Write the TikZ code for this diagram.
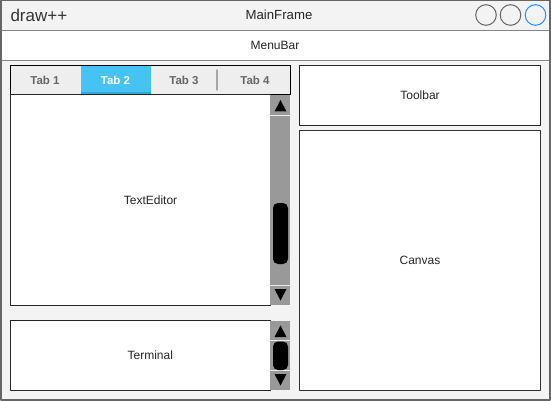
\documentclass[tikz,border=0pt]{standalone}
\usepackage{fontspec}
\setmainfont{Liberation Sans}
\definecolor{framegray}{HTML}{666666}
\definecolor{panelgray}{HTML}{F3F3F3}
\definecolor{tabgray}{HTML}{EEEEEE}
\definecolor{tabblue}{HTML}{45C3F3}
\definecolor{tabline}{HTML}{2EA9D8}
\definecolor{bargray}{HTML}{999999}
\definecolor{btnblue}{HTML}{1E90FF}
\tikzset{
  box/.style={draw=black!85,fill=white,line width=1pt},
  tab/.style={font=\bfseries\fontsize{11.5}{13}\selectfont,text=framegray},
  arrowup/.style={fill=black},
  thumb/.style={fill=black,rounded corners=5pt},
}
\begin{document}
\begin{tikzpicture}[x=1pt,y=-1pt, font=\fontsize{12}{14}\selectfont, line join=round, line cap=round]
\useasboundingbox (0,0) rectangle (551,401);
\def\sx{270} \def\sw{20} % scrollbars
\draw[framegray,fill=panelgray,line width=1.5pt] (0.75,0.75) rectangle (550,400);
\fill[white] (1.5,30) rectangle (549.25,60);
\draw[framegray!80] (1.5,30)--(549.25,30) (1.5,60)--(549.25,60);
\node[anchor=west,text=black!80,font=\fontsize{17}{20}\selectfont] (appname) at (7,15) {draw++};
\node[text=black!85,font=\fontsize{13.2}{15}\selectfont] (mainframe) at (279,15) {MainFrame};
\foreach \cx/\cc in {486/framegray,510.5/framegray,535.5/btnblue}
  \draw[\cc,line width=1pt] (\cx,15) circle (10.3);
\node[text=black!85] (menubar) at (275,45) {MenuBar};
% tabs
\draw[black,fill=tabgray,line width=1pt] (10.5,65.5) rectangle (290.5,95);
\fill[tabblue] (80.5,66) rectangle (150.5,95);
\fill[tabline] (80.5,92) rectangle (150.5,95);
\draw[black,line width=1pt] (10.5,65.5)--(290.5,65.5);
\draw[black!35,line width=1.5pt] (217,70)--(217,90);
\node[tab] (tabA) at (45,80) {Tab 1};
\node[tab,text=white] (tabB) at (115.5,80) {Tab 2};
\node[tab] (tabC) at (184,80) {Tab 3};
\node[tab] (tabD) at (255,80) {Tab 4};
% editor
\draw[box] (10.5,95) rectangle (\sx,305);
\node[text=black!85] (editor) at (150.5,200) {TextEditor};
\fill[bargray] (\sx,95.5) rectangle (\sx+\sw,305);
\draw[white!85!gray] (\sx,115)--(\sx+\sw,115) (\sx,285)--(\sx+\sw,285);
\fill[arrowup] (274.5,111.5)--(286.5,111.5)--(280.5,100)--cycle;
\fill[arrowup] (274.5,289)--(286.5,289)--(280.5,300.5)--cycle;
\fill[thumb] (273,203) rectangle (288,264);
% terminal
\draw[box] (10.5,320.5) rectangle (\sx,390);
\node[text=black!85] (terminal) at (150.3,355) {Terminal};
\fill[bargray] (\sx,320.5) rectangle (\sx+\sw,390);
\draw[white!85!gray] (\sx,340.5)--(\sx+\sw,340.5) (\sx,370.5)--(\sx+\sw,370.5);
\fill[arrowup] (274.5,337)--(286.5,337)--(280.5,325.5)--cycle;
\fill[arrowup] (274.5,374)--(286.5,374)--(280.5,385.5)--cycle;
\fill[thumb] (273,341.5) rectangle (288,370);
% right side
\draw[box] (299.5,65.5) rectangle (540.5,125.5) node[midway,text=black!85] (toolbar) {Toolbar};
\draw[box,draw=black!80] (299.5,130.5) rectangle (540.5,390.5) node[midway,text=black!85] (canvas) {Canvas};
\end{tikzpicture}
\end{document}
